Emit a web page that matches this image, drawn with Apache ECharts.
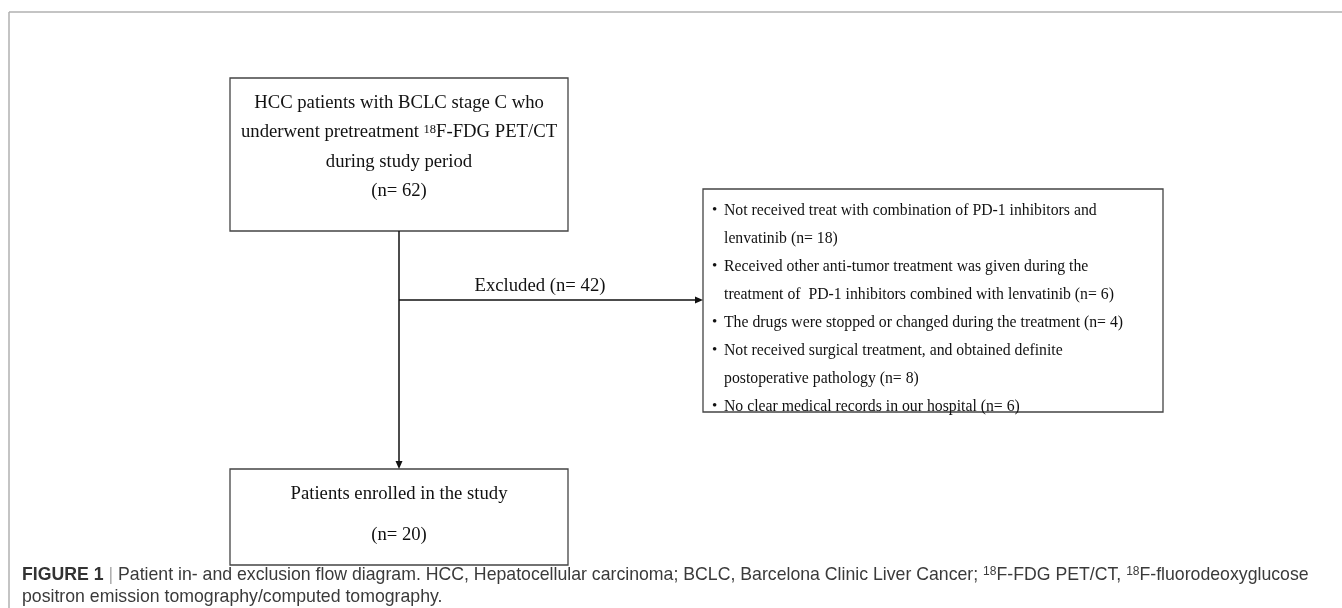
<!DOCTYPE html>
<html>
<head>
<meta charset="utf-8">
<script src="https://cdn.jsdelivr.net/npm/echarts@6/dist/echarts.min.js"></script>
<style>
  html, body { margin: 0; padding: 0; background: #fff; }
  #main { width: 1342px; height: 608px; }
</style>
</head>
<body>
<div id="main"></div>
<script>
// box texts
var topLines = ['HCC patients with BCLC stage C who', 'underwent pretreatment {sup|18}F-FDG PET/CT', 'during study period', '(n= 62)'];
var excludedLabel = 'Excluded (n= 42)';
var exclusionLines = [
  ['•', 'Not received treat with combination of PD-1 inhibitors and'],
  ['', 'lenvatinib (n= 18)'],
  ['•', 'Received other anti-tumor treatment was given during the'],
  ['', 'treatment of  PD-1 inhibitors combined with lenvatinib (n= 6)'],
  ['•', 'The drugs were stopped or changed during the treatment (n= 4)'],
  ['•', 'Not received surgical treatment, and obtained definite'],
  ['', 'postoperative pathology (n= 8)'],
  ['•', 'No clear medical records in our hospital (n= 6)']
];
var bottomLines = ['Patients enrolled in the study', '(n= 20)'];
var captionLines = [
  '{b|FIGURE 1} {bar||} Patient in- and exclusion flow diagram. HCC, Hepatocellular carcinoma; BCLC, Barcelona Clinic Liver Cancer; {sup|18}F-FDG PET/CT, {sup|18}F-fluorodeoxyglucose',
  'positron emission tomography/computed tomography.'
];

var serif = '"Liberation Serif", "Times New Roman", serif';
var sans = '"Liberation Sans", Arial, sans-serif';

var topBox = { x: 230, y: 78, w: 338, h: 153 };
var sideBox = { x: 703, y: 189, w: 460, h: 223 };
var botBox = { x: 230, y: 469, w: 338, h: 96 };
var stemX = 399;
var branchY = 300;

var els = [];

// figure frame (top and left only)
els.push({ type: 'line', shape: { x1: 9, y1: 12, x2: 1342, y2: 12 }, style: { stroke: '#b0b0b0', lineWidth: 1.5 } });
els.push({ type: 'line', shape: { x1: 9, y1: 12, x2: 9, y2: 608 }, style: { stroke: '#b0b0b0', lineWidth: 1.5 } });

function box(b) {
  els.push({ type: 'rect', shape: { x: b.x, y: b.y, width: b.w, height: b.h },
    style: { fill: '#fff', stroke: '#444', lineWidth: 1.3 } });
}
box(topBox); box(sideBox); box(botBox);

var supRich = { sup: { fontSize: 12.5, fontFamily: serif, fill: '#111', verticalAlign: 'top' } };

topLines.forEach(function (t, i) {
  els.push({ type: 'text', style: { text: t, x: stemX, y: 103 + i * 29.5, font: '18.7px ' + serif,
    fill: '#111', align: 'center', verticalAlign: 'middle', rich: supRich } });
});

// exclusion list: taller but narrower glyphs, like the source figure
exclusionLines.forEach(function (l, i) {
  var y = 210 + i * 28;
  if (l[0]) {
    els.push({ type: 'text', style: { text: l[0], x: 712, y: y, font: '15px ' + serif, fill: '#111',
      align: 'left', verticalAlign: 'middle' } });
  }
  els.push({ type: 'text', x: 724, y: y, scaleX: 0.9, style: { text: l[1], x: 0, y: 0, font: '17.5px ' + serif,
    fill: '#111', align: 'left', verticalAlign: 'middle' } });
});

bottomLines.forEach(function (t, i) {
  els.push({ type: 'text', style: { text: t, x: stemX, y: 494 + i * 41, font: '18.7px ' + serif,
    fill: '#111', align: 'center', verticalAlign: 'middle' } });
});

els.push({ type: 'text', style: { text: excludedLabel, x: 540, y: 286, font: '18.7px ' + serif,
  fill: '#111', align: 'center', verticalAlign: 'middle' } });

// connectors
els.push({ type: 'line', shape: { x1: stemX, y1: topBox.y + topBox.h, x2: stemX, y2: botBox.y - 7 },
  style: { stroke: '#111', lineWidth: 1.5 } });
els.push({ type: 'polygon', shape: { points: [[stemX - 3.5, botBox.y - 8], [stemX + 3.5, botBox.y - 8], [stemX, botBox.y]] },
  style: { fill: '#111' } });
els.push({ type: 'line', shape: { x1: stemX, y1: branchY, x2: sideBox.x - 7, y2: branchY },
  style: { stroke: '#111', lineWidth: 1.5 } });
els.push({ type: 'polygon', shape: { points: [[sideBox.x - 8, branchY - 3.5], [sideBox.x - 8, branchY + 3.5], [sideBox.x, branchY]] },
  style: { fill: '#111' } });

// caption
captionLines.forEach(function (t, i) {
  els.push({ type: 'text', style: { text: t, x: 22, y: 575 + i * 22, font: '17.7px ' + sans, fill: '#3a3a3a',
    align: 'left', verticalAlign: 'middle',
    rich: {
      b: { fontSize: 17.7, fontWeight: 'bold', fontFamily: sans, fill: '#333' },
      bar: { fontSize: 17.7, fontFamily: sans, fill: '#aaa' },
      sup: { fontSize: 12, fontFamily: sans, fill: '#3a3a3a', verticalAlign: 'top' }
    } } });
});

var chart = echarts.init(document.getElementById('main'));
chart.setOption({ animation: false, graphic: { elements: els } });
</script>
</body>
</html>
